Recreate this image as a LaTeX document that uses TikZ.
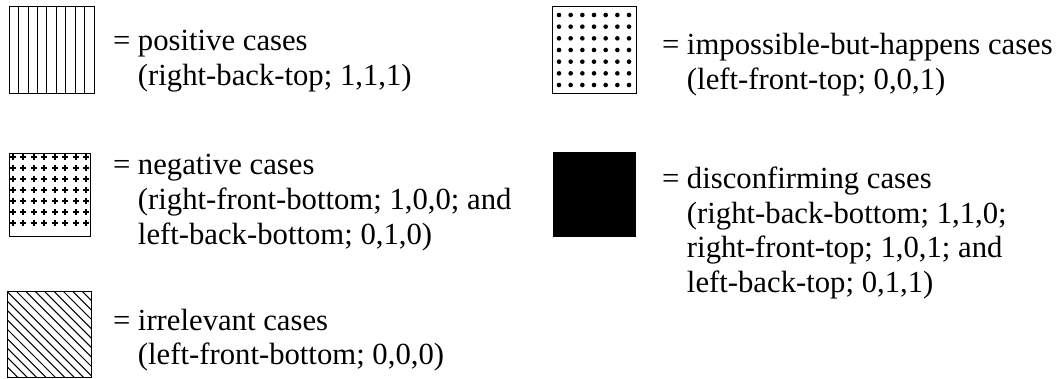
\documentclass[tikz,border=0pt]{standalone}
\usepackage{fontspec}
\setmainfont{Liberation Serif}
\begin{document}
\begin{tikzpicture}[x=1pt,y=-1pt,
  frame/.style={draw=black, line width=1pt},
  hatch/.style={line width=1pt},
  plusmark/.style={line width=1.9pt},
  legtext/.style={anchor=base west, inner sep=0pt, outer sep=0pt,
    font=\fontsize{30.7}{34.7}\selectfont}]
\useasboundingbox (0,0) rectangle (1062,379);

% positive: vertical lines
\foreach \k in {1,...,8} \draw[hatch] (9.3+9.41*\k,6.7) -- (9.3+9.41*\k,94);
\draw[frame] (9.3,6.7) rectangle (94,94);

% negative: plus signs
\foreach \i in {0,...,7} \foreach \j in {0,...,6} {
  \draw[plusmark] (12.9+10.45*\i-3,157.3+11*\j) -- ++(6,0)
                  (12.9+10.45*\i,157.3+11*\j-3) -- ++(0,6);
}
\draw[frame] (9.3,153.3) rectangle (90.7,236.7);

% irrelevant: diagonal lines
\begin{scope}
\clip (7.3,291.7) rectangle (91.7,377.3);
\foreach \k in {-10,...,9} \draw[hatch] (7.3+9.4*\k,291.7) -- ++(100,100);
\end{scope}
\draw[frame] (7.3,291.7) rectangle (91.7,377.3);

% impossible-but-happens: dots
\foreach \i in {0,...,6} \foreach \j in {0,...,6}
  \fill (559+11.67*\i,15+11.67*\j) circle[radius=2.3pt];
\draw[frame] (552.7,6.7) rectangle (636,93.3);

% disconfirming: solid black
\fill[black] (552.7,151.7) rectangle (635.7,237.3);

% texts
\node[legtext] (tpos) at (113,50.5) {\begin{tabular}[t]{@{}l@{\ }l@{}}=&positive cases\\&(right-back-top; 1,1,1)\end{tabular}};
\node[legtext] (tneg) at (113,175) {\begin{tabular}[t]{@{}l@{\ }l@{}}=&negative cases\\&(right-front-bottom; 1,0,0; and\\&left-back-bottom; 0,1,0)\end{tabular}};
\node[legtext] (tirr) at (113,330) {\begin{tabular}[t]{@{}l@{\ }l@{}}=&irrelevant cases\\&(left-front-bottom; 0,0,0)\end{tabular}};
\node[legtext] (timp) at (662,55) {\begin{tabular}[t]{@{}l@{\ }l@{}}=&impossible-but-happens cases\\&(left-front-top; 0,0,1)\end{tabular}};
\node[legtext] (tdis) at (662,188.5) {\begin{tabular}[t]{@{}l@{\ }l@{}}=&disconfirming cases\\&(right-back-bottom; 1,1,0;\\&right-front-top; 1,0,1; and\\&left-back-top; 0,1,1)\end{tabular}};
\end{tikzpicture}
\end{document}
